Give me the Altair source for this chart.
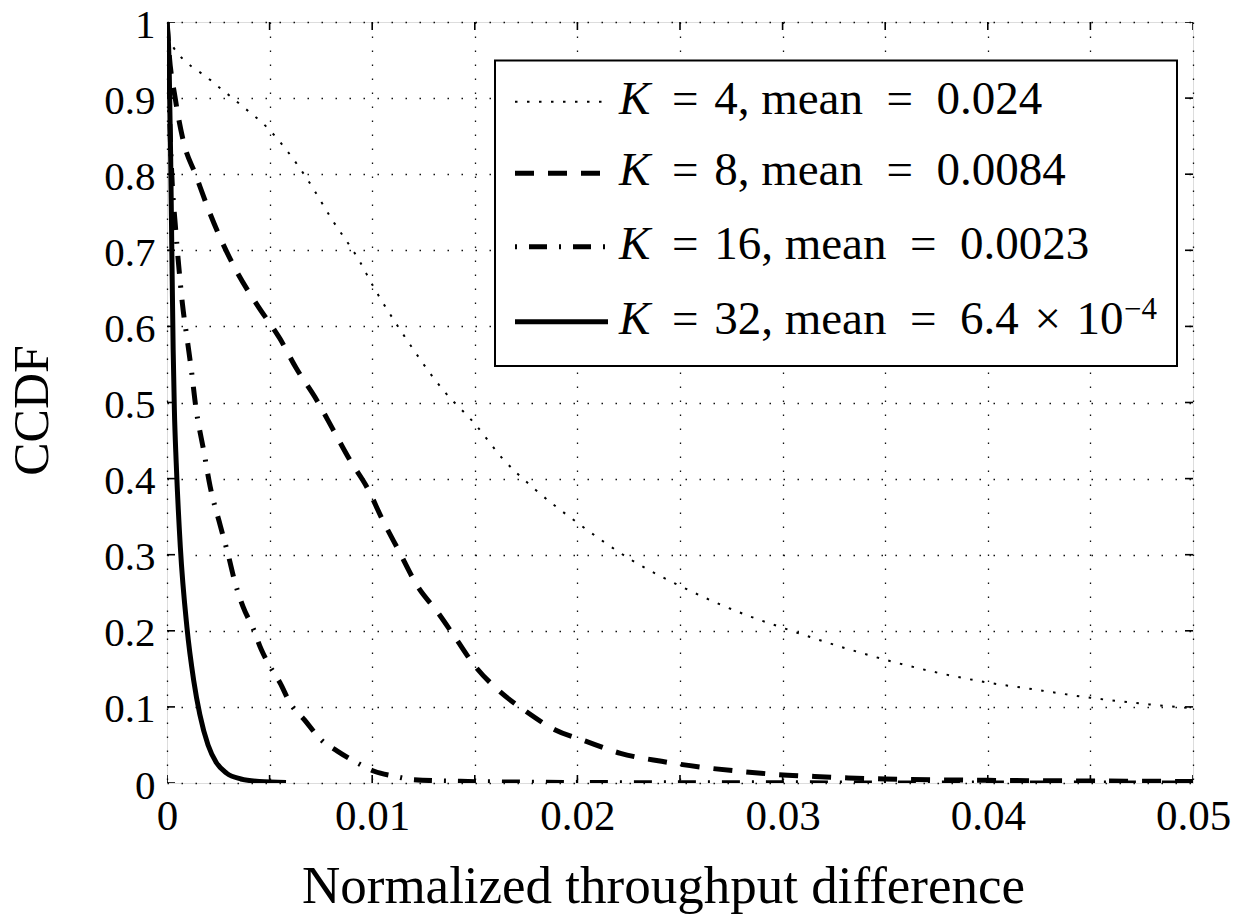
import altair as alt
import pandas as pd

# ---------------- data ----------------
k4_x = [0, 0.0003, 0.0021, 0.0036, 0.005, 0.0067, 0.0081, 0.0094, 0.0100, 0.0115, 0.0135, 0.015,
        0.0164, 0.0178, 0.020, 0.0227, 0.025, 0.0285, 0.030, 0.0332, 0.035, 0.040, 0.042, 0.045, 0.050]
k4_y = [0.98, 0.967, 0.924, 0.891, 0.858, 0.799, 0.738, 0.685, 0.655, 0.590, 0.515, 0.472,
        0.425, 0.389, 0.342, 0.292, 0.259, 0.218, 0.204, 0.176, 0.162, 0.132, 0.124, 0.112, 0.098]

k8_x = [0, 0.0001, 0.0004, 0.0008, 0.0014, 0.002, 0.0026, 0.0034, 0.0044, 0.0055, 0.0063, 0.0073,
        0.0081, 0.0089, 0.0098, 0.0105, 0.0113, 0.0122, 0.0132, 0.0141, 0.015, 0.0161, 0.0175,
        0.0189, 0.0204, 0.0221, 0.0241, 0.0261, 0.0279, 0.0296, 0.0314, 0.0332, 0.035, 0.040,
        0.045, 0.050]
k8_y = [1.0, 0.96, 0.90, 0.843, 0.799, 0.755, 0.716, 0.672, 0.628, 0.584, 0.545, 0.503,
        0.464, 0.425, 0.386, 0.346, 0.305, 0.259, 0.224, 0.189, 0.154, 0.123, 0.094,
        0.070, 0.055, 0.039, 0.0285, 0.0206, 0.0154, 0.0114, 0.0088, 0.0066, 0.0053, 0.0035,
        0.0026, 0.002]

k16_x = [0, 0.0001, 0.00025, 0.0004, 0.00057, 0.00075, 0.001, 0.0012, 0.0014, 0.0018, 0.0021,
         0.0026, 0.003, 0.0033, 0.0037, 0.0042, 0.0046, 0.005, 0.0055, 0.006, 0.0067, 0.0075,
         0.0083, 0.0093, 0.0101, 0.0111, 0.012, 0.0143, 0.0167, 0.020, 0.030, 0.050]
k16_y = [1.0, 0.90, 0.79, 0.735, 0.68, 0.63, 0.58, 0.54, 0.495, 0.435, 0.39,
         0.338, 0.298, 0.265, 0.232, 0.203, 0.175, 0.154, 0.132, 0.105, 0.083, 0.057,
         0.042, 0.026, 0.0154, 0.0088, 0.0044, 0.0022, 0.0013, 0.0006, 0.0002, 0.0]

k32_x = [0, 0.0001, 0.00018, 0.00024, 0.0003, 0.00036, 0.00045, 0.00065, 0.00097, 0.0013, 0.0016,
         0.002, 0.0024, 0.0029, 0.0036, 0.0045, 0.0058]
k32_y = [1.0, 0.95, 0.82, 0.69, 0.57, 0.49, 0.42, 0.31, 0.205, 0.135, 0.09,
         0.05, 0.027, 0.013, 0.0053, 0.002, 0.0008]

x_ticks = [0, 0.005, 0.01, 0.015, 0.02, 0.025, 0.03, 0.035, 0.04, 0.045, 0.05]
y_ticks = [0, 0.1, 0.2, 0.3, 0.4, 0.5, 0.6, 0.7, 0.8, 0.9, 1.0]

S = "\u2004"  # three-per-em space
E = "\u2002"  # en space
legend_k = ["K", "K", "K", "K"]
legend_rest = ["=" + S + "4, mean" + E + "=" + E + "0.024",
               "=" + S + "8, mean" + E + "=" + E + "0.0084",
               "=" + S + "16, mean" + E + "=" + E + "0.0023",
               "=" + S + "32, mean" + E + "=" + E + "6.4" + S + "\u00d7" + S + "10"]
legend_sup = ["", "", "", "\u22124"]

# ---------------- layout / style ----------------
W, H = 1026, 761
FONT = "Liberation Serif"

xscale = alt.Scale(domain=[0, 0.05], nice=False, zero=False)
yscale = alt.Scale(domain=[0, 1], nice=False)

grid = dict(grid=True, gridDash=[1.5, 12.5], gridColor="#111", gridWidth=1.3)

x_axis = alt.Axis(
    values=x_ticks,
    labelExpr="abs(datum.value*100 - round(datum.value*100)) < 1e-6 ? format(datum.value, '~g') : ''",
    ticks=False, domain=False,
    labelFont=FONT, labelFontSize=43, labelColor="black", labelPadding=12,
    labelFlush=False, labelOverlap=False,
    title="Normalized throughput difference", titleFont=FONT, titleFontSize=53,
    titleFontWeight="normal", titleColor="black",
    titleX=496, titleY=119, titleBaseline="alphabetic", titleAlign="center", titleAnchor="start",
    **grid,
)
y_axis = alt.Axis(
    values=y_ticks,
    labelExpr="format(datum.value, '~g')",
    ticks=False, domain=False,
    labelFont=FONT, labelFontSize=41, labelColor="black", labelPadding=12, labelOffset=3,
    labelFlush=False, labelOverlap=False,
    title="CCDF", titleFont=FONT, titleFontSize=50, titleFontWeight="normal", titleColor="black",
    titleX=-120, titleY=388, titleAngle=-90, titleBaseline="alphabetic", titleAlign="center",
    titleAnchor="start",
    **grid,
)

X = alt.X("x:Q", scale=xscale, axis=x_axis)
Y = alt.Y("y:Q", scale=yscale, axis=y_axis)

styles = [
    (k4_x, k4_y, dict(strokeWidth=2, strokeDash=[2.5, 9.5])),
    (k8_x, k8_y, dict(strokeWidth=5, strokeDash=[19, 14])),
    (k16_x, k16_y, dict(strokeWidth=5, strokeDash=[2, 12, 18, 12])),
    (k32_x, k32_y, dict(strokeWidth=5)),
]

layers = []
for xs, ys, st in styles:
    df = pd.DataFrame({"x": xs, "y": ys})
    layers.append(
        alt.Chart(df).mark_line(color="black", interpolate="monotone", clip=True, **st)
        .encode(x=X, y=Y)
    )

# inward ticks on all four sides
xt = pd.DataFrame({"x": x_ticks})
yt = pd.DataFrame({"y": y_ticks})
tick_style = dict(color="black", thickness=1.6, size=16, clip=True, opacity=1)
layers.append(alt.Chart(xt).mark_tick(orient="vertical", **tick_style).encode(x=X, y=alt.datum(0)))
layers.append(alt.Chart(xt).mark_tick(orient="vertical", **tick_style).encode(x=X, y=alt.datum(1)))
layers.append(alt.Chart(yt).mark_tick(orient="horizontal", **tick_style).encode(y=Y, x=alt.datum(0)))
layers.append(alt.Chart(yt).mark_tick(orient="horizontal", **tick_style).encode(y=Y, x=alt.datum(0.05)))

# legend box
one = pd.DataFrame({"a": [0]})
layers.append(
    alt.Chart(one).mark_rect(fill="white", stroke="black", strokeWidth=2)
    .encode(x=alt.value(328), x2=alt.value(1010), y=alt.value(38.5), y2=alt.value(344))
)
row_y = [79.7, 151.3, 224.7, 299.7]
for (xs, ys, st), ry, kk, rest, sup in zip(styles, row_y, legend_k, legend_rest, legend_sup):
    layers.append(
        alt.Chart(one).mark_rule(color="black", **st)
        .encode(x=alt.value(348), x2=alt.value(441), y=alt.value(ry))
    )
    layers.append(
        alt.Chart(one).mark_text(text=kk, font=FONT, fontStyle="italic", fontSize=47,
                                 align="left", baseline="alphabetic", color="black")
        .encode(x=alt.value(452), y=alt.value(ry + 12))
    )
    layers.append(
        alt.Chart(one).mark_text(text=rest, font=FONT, fontSize=47,
                                 align="left", baseline="alphabetic", color="black")
        .encode(x=alt.value(505), y=alt.value(ry + 12))
    )
    if sup:
        layers.append(
            alt.Chart(one).mark_text(text=sup, font=FONT, fontSize=31,
                                     align="left", baseline="alphabetic", color="black")
            .encode(x=alt.value(957), y=alt.value(ry - 3))
        )

chart = (
    alt.layer(*layers)
    .properties(width=W, height=H, autosize=alt.AutoSizeParams(type="none"),
                padding={"left": 159, "top": 14, "right": 38, "bottom": 132})
    .configure_view(stroke="black", strokeWidth=2)
    .configure(background="white")
)

chart.save("out.html", embed_options={"renderer": "svg", "actions": False})
